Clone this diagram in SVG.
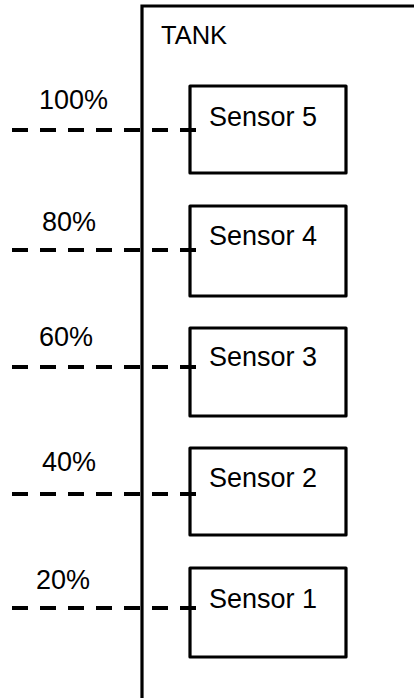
<svg xmlns="http://www.w3.org/2000/svg" width="414" height="698" viewBox="0 0 414 698">
<style>
text{font-family:"Liberation Sans",Arial,sans-serif;font-size:27px;fill:#000}
.box{fill:#fff;stroke:#000;stroke-width:3.2;stroke-linejoin:round}
.tank{fill:none;stroke:#000;stroke-width:3.2}
.lvl{stroke:#000;stroke-width:3.8;stroke-dasharray:16 12;fill:none}
</style>
<rect width="414" height="698" fill="#fff"/>
<g id="tank">
<path class="tank" d="M142,698 V6 H414"/>
<text x="161" y="44" style="font-size:25.5px">TANK</text>
</g>
<g id="labels">
<text x="39" y="109">100%</text>
<text x="42" y="231">80%</text>
<text x="39" y="346">60%</text>
<text x="42" y="471">40%</text>
<text x="36" y="589">20%</text>
</g>
<g id="sensor5"><rect class="box" x="190" y="86" width="156" height="87"/><text x="209" y="126">Sensor 5</text></g>
<g id="sensor4"><rect class="box" x="190" y="206" width="156" height="90"/><text x="209" y="245">Sensor 4</text></g>
<g id="sensor3"><rect class="box" x="190" y="328" width="156" height="88"/><text x="209" y="366">Sensor 3</text></g>
<g id="sensor2"><rect class="box" x="190" y="448" width="156" height="87"/><text x="209" y="487">Sensor 2</text></g>
<g id="sensor1"><rect class="box" x="190" y="568" width="156" height="89"/><text x="209" y="608">Sensor 1</text></g>
<g id="connectors">
<line class="lvl" x1="12" y1="130" x2="196" y2="130"/>
<line class="lvl" x1="12" y1="250" x2="196" y2="250"/>
<line class="lvl" x1="12" y1="367" x2="196" y2="367"/>
<line class="lvl" x1="12" y1="494" x2="196" y2="494"/>
<line class="lvl" x1="12" y1="608" x2="196" y2="608"/>
</g>
</svg>
